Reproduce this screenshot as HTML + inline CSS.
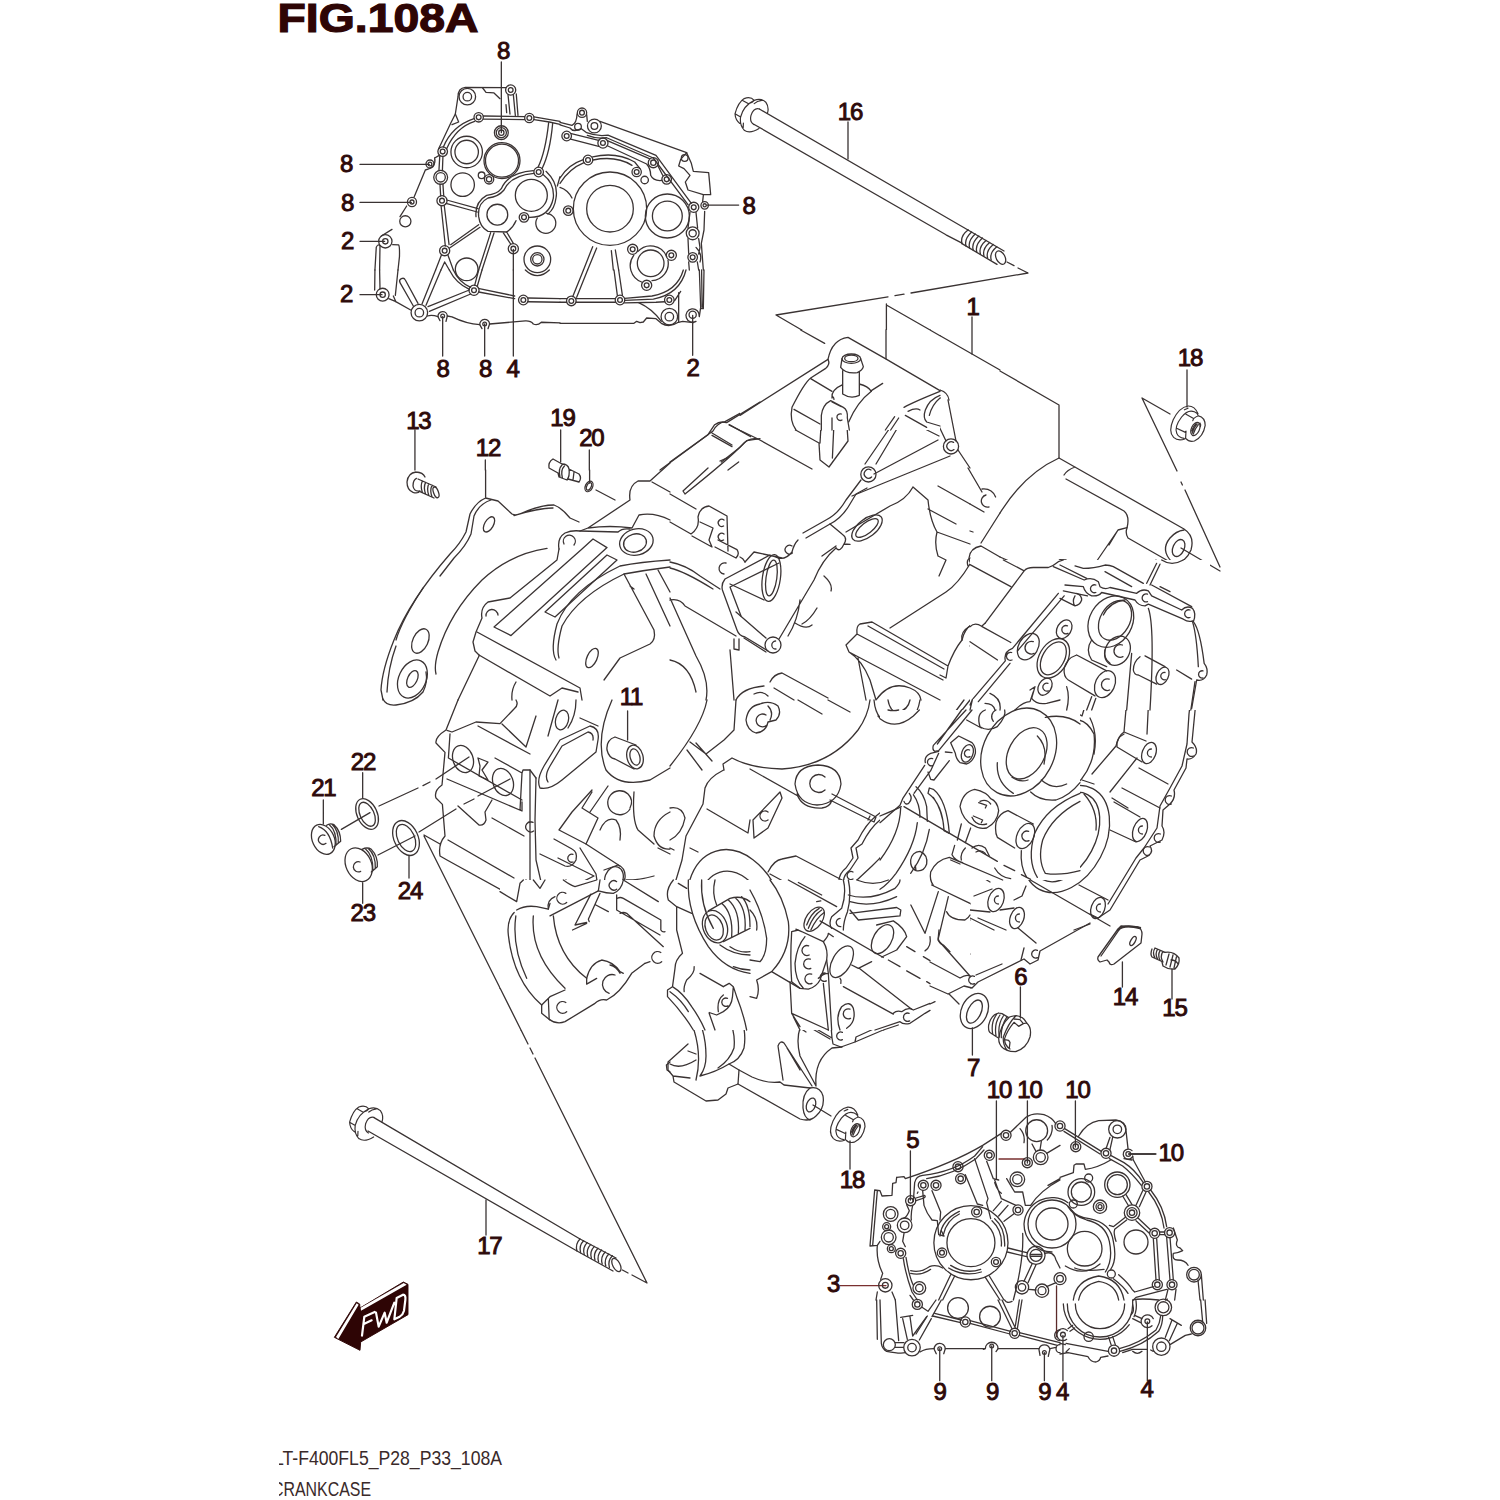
<!DOCTYPE html>
<html><head><meta charset="utf-8"><title>FIG.108A CRANKCASE</title>
<style>
html,body{margin:0;padding:0;background:#fff;}
body{width:1500px;height:1500px;overflow:hidden;font-family:"Liberation Sans",sans-serif;}
svg{display:block;}
svg text{font-family:"Liberation Sans",sans-serif;}
.l{fill:none;stroke:#3a3333;stroke-linecap:round;stroke-linejoin:round;}
.w{fill:#fff;stroke:#3a3333;stroke-linecap:round;stroke-linejoin:round;}
.n{font-weight:normal;font-size:24px;fill:#2e0a0a;stroke:#2e0a0a;stroke-width:0.95px;text-anchor:middle;letter-spacing:-1.2px;}
</style></head><body>
<svg width="1500" height="1500" viewBox="0 0 1500 1500">
<rect width="1500" height="1500" fill="#fff"/>
<defs>
<clipPath id="cutAll" clipPathUnits="userSpaceOnUse"><path clip-rule="evenodd" d="M0 0H1500V1500H0ZM970 560H1210V710H970ZM500 880H970V1030H500ZM740 330H940V430H740ZM880 710H970V880H880ZM970 710H1080V880H970Z"/></clipPath>
</defs>
<g transform="translate(725,85) scale(0.04)" class="l" stroke-width="30">
<path d="M730 385Q640 280 480 340Q330 430 250 720Q260 880 370 960M730 385Q460 520 390 800Q360 1000 480 1130M440 385L590 470M250 720L390 800M590 470Q700 430 730 385M730 385Q900 320 1020 430Q1110 560 1060 710M480 1130Q620 1230 850 1090M730 465Q800 400 920 385M460 950L455 1060M860 600Q720 560 650 760Q610 920 720 990"/>
</g>
<g transform="translate(1160,395) scale(0.04)" class="l" stroke-width="30">
<path d="M700 275Q480 310 330 620Q200 920 340 1060Q450 1160 620 1100M700 275Q870 270 950 470M860 420Q700 350 540 550Q350 800 420 960Q460 1060 600 1085M650 480L840 590M415 830L650 940M840 590L820 640M650 900L640 1080M960 520Q1130 560 1130 760Q1080 1050 860 1150Q720 1180 650 1090M960 520Q900 540 840 590M860 420Q940 450 960 520M610 370L700 330"/>
<ellipse cx="885" cy="850" rx="100" ry="175" transform="rotate(25 885 850)"/>
<path d="M800 960Q850 800 930 720M830 980Q880 830 960 740M790 900Q830 780 900 710M1000 700Q1030 740 1010 790"/>
</g>

<g transform="translate(360,70) scale(0.133333)" class="l" stroke-width="9.7">
<!-- tile A1: 360,70 .. 560,270 -->
<path d="M1060 -60V470M0 708H520M0 993H385M0 1285H185M1150 1345V1500"/>
<circle cx="1060" cy="470" r="52"/><circle cx="1060" cy="470" r="38"/><circle cx="1060" cy="470" r="20"/>
<path d="M1095 132L790 130Q735 135 735 200L715 330L680 400L590 590"/>
<circle cx="805" cy="200" r="62"/><circle cx="805" cy="200" r="32"/>
<circle cx="1130" cy="150" r="38"/><circle cx="1130" cy="150" r="18"/>
<path d="M920 135L945 168L1005 172L1050 215M1110 185L1125 330M1150 185L1165 340M1172 180L1185 340M1095 260L1100 320"/>
<circle cx="890" cy="355" r="35"/><circle cx="890" cy="355" r="18"/>
<circle cx="1270" cy="360" r="35"/><circle cx="1270" cy="360" r="18"/>
<path d="M925 345L1235 350M925 368L1235 372M1305 352L1500 385M1305 372L1420 390L1500 408"/>
<path d="M855 365Q690 420 625 578M860 385Q720 430 650 590"/>
<path d="M715 330L740 390L690 410"/>
<circle cx="620" cy="612" r="36"/><circle cx="620" cy="612" r="18"/>
<path d="M595 640L560 660M490 750L405 955M560 660Q575 730 490 750M350 1020L300 1100M240 1195L160 1245"/>
<circle cx="525" cy="705" r="30"/><circle cx="525" cy="705" r="14"/>
<circle cx="605" cy="805" r="52"/><circle cx="605" cy="805" r="35"/>
<path d="M598 648L592 755M622 648L618 755M600 858L605 945M622 858L628 945"/>
<circle cx="800" cy="615" r="118"/><circle cx="800" cy="615" r="88"/>
<circle cx="1065" cy="680" r="135"/><circle cx="1065" cy="680" r="124"/>
<circle cx="770" cy="860" r="88"/>
<circle cx="912" cy="790" r="25"/><circle cx="968" cy="820" r="35"/><circle cx="968" cy="820" r="20"/>
<circle cx="615" cy="980" r="38"/><circle cx="615" cy="980" r="18"/>
<circle cx="390" cy="990" r="34"/><circle cx="390" cy="990" r="15"/>
<circle cx="1340" cy="765" r="36"/><circle cx="1340" cy="765" r="18"/>
<path d="M1415 395Q1390 620 1335 730M1445 400Q1425 620 1365 740"/>
<circle cx="1285" cy="940" r="120"/>
<path d="M1305 775Q1130 790 1080 900Q1040 950 960 960Q880 1000 890 1100Q900 1180 960 1210L1100 1215Q1150 1180 1170 1130M1265 1105Q1420 1110 1450 960Q1460 850 1375 785"/>
<path d="M1300 755Q1110 770 1060 890Q1030 930 950 940Q860 990 870 1100M1395 760Q1490 850 1470 960Q1460 1040 1410 1080"/>
<circle cx="1030" cy="1085" r="78"/>
<circle cx="1230" cy="1105" r="36"/><circle cx="1230" cy="1105" r="18"/>
<path d="M1330 1110A75 75 0 1 0 1400 1075"/>
<circle cx="340" cy="1135" r="42"/>
<circle cx="190" cy="1285" r="50"/><circle cx="190" cy="1285" r="20"/>
<path d="M112 1500L122 1330Q135 1300 150 1320L147 1500M245 1310L290 1312Q298 1320 296 1400L285 1500"/>
<path d="M650 975L885 1040M645 1000L880 1065M608 1018L640 1320M632 1018L668 1310M680 1310L890 1160M672 1335L900 1180"/>
<circle cx="635" cy="1355" r="38"/><circle cx="635" cy="1355" r="18"/>
<path d="M980 1220L890 1500M1005 1222L915 1500M1075 1222L1130 1305M1100 1215L1150 1300M610 1390L567 1500M660 1390L700 1500M635 1440L607 1500M635 1440L670 1500"/>
<circle cx="1150" cy="1340" r="38"/><circle cx="1150" cy="1340" r="18"/>
<circle cx="1330" cy="1420" r="100"/><circle cx="1330" cy="1420" r="50"/><circle cx="1330" cy="1420" r="35"/>
<circle cx="800" cy="1495" r="85"/>
<path d="M1500 800L1480 870"/>
</g>

<g transform="translate(560,70) scale(0.133333)" class="l" stroke-width="9.7">
<!-- tile A2: 560,70 .. 760,270 -->
<circle cx="165" cy="320" r="35"/><circle cx="165" cy="320" r="18"/>
<circle cx="258" cy="420" r="52"/><circle cx="258" cy="420" r="25"/>
<circle cx="135" cy="425" r="25"/>
<circle cx="50" cy="495" r="36"/><circle cx="50" cy="495" r="18"/>
<circle cx="322" cy="548" r="38"/><circle cx="322" cy="548" r="18"/>
<circle cx="210" cy="675" r="36"/><circle cx="210" cy="675" r="18"/>
<circle cx="700" cy="695" r="38"/><circle cx="700" cy="695" r="20"/>
<circle cx="575" cy="765" r="35"/><circle cx="575" cy="765" r="18"/>
<circle cx="635" cy="825" r="28"/>
<circle cx="800" cy="820" r="36"/><circle cx="800" cy="820" r="18"/>
<circle cx="375" cy="1040" r="275"/><circle cx="375" cy="1040" r="175"/>
<circle cx="805" cy="1095" r="165"/><circle cx="805" cy="1095" r="112"/>
<circle cx="62" cy="1055" r="36"/><circle cx="62" cy="1055" r="18"/>
<circle cx="1003" cy="1030" r="38"/><circle cx="1003" cy="1030" r="18"/>
<circle cx="1085" cy="1015" r="28"/><circle cx="1085" cy="1015" r="12"/>
<circle cx="995" cy="1225" r="48"/><circle cx="995" cy="1225" r="27"/>
<circle cx="995" cy="1405" r="36"/><circle cx="995" cy="1405" r="18"/>
<circle cx="545" cy="1345" r="38"/><circle cx="545" cy="1345" r="18"/>
<circle cx="835" cy="1390" r="38"/><circle cx="835" cy="1390" r="18"/>
<path d="M0 392L90 415Q125 400 128 330M200 335L205 385M300 385L950 620"/>
<path d="M0 412L75 435Q100 470 160 440L200 470Q280 500 360 488L720 640L985 1000M205 490Q280 520 350 508L700 660L960 1010"/>
<path d="M85 478L290 528M80 518L290 572M355 530L670 665M355 568L650 705Q680 740 680 790Q700 835 765 828M735 720L770 790"/>
<path d="M0 810Q60 710 175 672M0 850Q70 740 180 695M245 652Q420 610 560 690L600 740M248 675Q420 640 540 715"/>
<path d="M950 620L905 670L890 720L930 740L975 790L940 840L960 900L1075 935L1130 935L1115 770L1000 760L985 700Z"/>
<circle cx="935" cy="660" r="25"/>
<path d="M1075 940L1070 985M1085 1060L1080 1200L1060 1300L1075 1500M1100 1013H1340"/>
<path d="M975 1068L960 1185M1020 1068L1032 1185M960 1265L965 1375M1040 1265L1050 1330L1040 1380M965 1440L970 1500M1030 1440L1040 1500M1020 1330Q1070 1380 1050 1440"/>
<path d="M245 1325L176 1500M275 1335L207 1500M385 1355L400 1500M415 1350L440 1500"/>
<circle cx="680" cy="1450" r="100"/><path d="M583 1362A130 130 0 0 1 800 1400M810 1428A130 130 0 0 1 690 1580M612 1590A130 130 0 0 1 553 1390"/>
<path d="M0 880Q60 900 90 960"/>
</g>

<g transform="translate(360,270) scale(0.133333)" class="l" stroke-width="9.7">
<!-- tile A3: 360,270 .. 560,470 -->
<path d="M620 350V645M935 405V645M1150 0V645M412 1200V1500M940 1425V1500M0 185H165"/>
<circle cx="170" cy="185" r="48"/><circle cx="170" cy="185" r="20"/>
<circle cx="445" cy="320" r="62"/><circle cx="445" cy="320" r="32"/>
<circle cx="855" cy="152" r="38"/><circle cx="855" cy="152" r="18"/>
<circle cx="1225" cy="225" r="36"/><circle cx="1225" cy="225" r="18"/>
<circle cx="620" cy="345" r="14"/><path d="M585 350A35 35 0 0 1 655 345L645 385M585 350L600 380"/>
<circle cx="935" cy="405" r="14"/><path d="M898 410A36 36 0 0 1 972 405L960 440M898 410L915 440"/>
<path d="M112 0L110 150M147 0L150 140M285 0L265 190M215 215L265 235L380 300M250 195L270 240"/>
<path d="M400 270L300 95A22 22 0 0 1 340 75L435 250"/>
<path d="M465 255L567 0M495 265L607 0M510 275L820 150M520 310L830 180"/>
<path d="M895 140L1160 195M890 165L1160 215M1260 210L1500 215M1260 238L1500 242"/>
<path d="M700 0Q740 90 830 130M670 0Q720 100 820 145M880 120L915 0M860 115L890 0"/>
<path d="M505 345Q540 335 585 350M655 345L690 352Q800 405 898 410M972 405L1240 382Q1280 380 1300 405Q1330 420 1360 392L1500 396"/>
<path d="M1240 0Q1330 85 1420 0"/>
</g>

<g transform="translate(560,270) scale(0.133333)" class="l" stroke-width="9.7">
<!-- tile A4: 560,270 .. 760,470 -->
<path d="M995 340V640M220 1350V1500M5 1200V1440"/>
<circle cx="85" cy="232" r="36"/><circle cx="85" cy="232" r="18"/>
<circle cx="450" cy="225" r="36"/><circle cx="450" cy="225" r="18"/>
<circle cx="820" cy="225" r="36"/><circle cx="820" cy="225" r="18"/>
<circle cx="650" cy="115" r="38"/><circle cx="650" cy="115" r="18"/>
<circle cx="820" cy="350" r="62"/><circle cx="820" cy="350" r="32"/>
<circle cx="995" cy="335" r="27"/><path d="M1020 385A50 50 0 1 1 1045 345"/>
<path d="M0 215H50M120 215H415M0 242H50M120 242H415M485 228L700 218Q900 180 945 0M485 247L720 242L785 238M485 213L690 195Q880 160 925 0"/>
<path d="M95 200L176 0M125 205L207 0M405 0L430 190M440 0L468 190"/>
<path d="M590 245Q690 290 760 385"/>
<path d="M0 400H555L575 385L600 395L625 390L650 360L720 365L760 400Q820 435 880 395L920 385L1000 395"/>
<path d="M890 170V390M905 160L860 230M1045 0L1055 280L1045 350M1080 0L1075 290L1055 290M1062 0L1066 280"/>
<!-- main body upper-left corner -->
<path d="M750 1500L1110 1235L1160 1160Q1200 1130 1250 1145L1500 990M1140 1240L1290 1325M1270 1160L1430 1250M1210 1440L1350 1330L1400 1280L1500 1265M1260 1500L1340 1440"/>
</g>

<g clip-path="url(#cutAll)">
<g transform="translate(730,70) scale(0.2)" class="l" stroke-width="6.5">
<!-- tile B1: 730,70 .. 1030,370  (5x) -->
<path d="M590 260V445M1210 1235V1420"/>
<!-- bolt 16 -->
<path d="M147 195L1190 800M119 271L1080 824L1160 866"/>
<path d="M1190 800L1370 905M1160 868L1335 972"/>
<ellipse cx="1353" cy="938" rx="22" ry="36" transform="rotate(-28 1353 938)"/>
<path d="M1190 800Q1150 830 1160 868M1208 810Q1170 845 1180 880M1226 820Q1188 855 1198 890M1244 830Q1206 865 1216 900M1262 840Q1224 875 1234 910M1280 852Q1242 885 1252 920M1298 862Q1260 895 1270 930M1316 872Q1278 905 1288 940M1334 884Q1296 915 1306 950"/>
<!-- zigzag -->
<path d="M1385 960L1420 978M1440 990L1490 1015L905 1115M870 1121L825 1128M790 1134L230 1225L470 1365"/>
<path d="M782 1170V1445M782 1175L1350 1500"/>
<!-- body top -->
<path d="M400 1500L490 1440L520 1380Q560 1335 605 1348L720 1410L780 1445L880 1500M560 1500L565 1452Q590 1420 640 1425Q668 1445 660 1500"/>
<ellipse cx="615" cy="1448" rx="35" ry="14"/>
</g>
</g>

<g transform="translate(370,400) scale(0.2)" class="l" stroke-width="6.5">
<!-- tile C1: 370,400 .. 670,700 (5x) -->
<path d="M578 350V485M1098 350V415M1130 450L1225 500"/>
<!-- screw 13 -->
<path d="M230 360Q190 365 185 410Q185 450 215 462M230 360Q265 362 275 385M215 462Q240 470 250 455M232 392Q215 400 215 430Q220 460 250 455M240 395L330 435M250 458L320 490M262 405Q250 430 262 462M278 412Q266 437 278 470M294 419Q282 444 294 477M310 426Q298 451 310 484"/>
<ellipse cx="330" cy="462" rx="12" ry="28" transform="rotate(-20 330 462)"/>
<!-- fitting 19 -->
<path d="M915 295Q890 310 895 340L940 365M915 295L960 320M940 365L945 385L985 400M960 320Q990 320 995 345M985 400Q1000 380 995 345M995 345L1045 370Q1060 390 1045 410L990 395M960 325Q940 345 950 385M972 330Q952 350 962 390M1020 360L1015 400"/>
<ellipse cx="1095" cy="432" rx="18" ry="28" transform="rotate(25 1095 432)"/><ellipse cx="1095" cy="432" rx="11" ry="20" transform="rotate(25 1095 432)"/>
<!-- plate 12 -->
<path d="M578 490Q530 510 500 570L480 660Q450 720 400 770Q200 1000 120 1200Q60 1350 55 1450L65 1500"/>
<path d="M605 500Q545 520 520 580L505 670Q480 730 420 790L350 880M265 940Q160 1100 130 1200M130 1230Q90 1340 85 1460"/>
<path d="M578 490L640 505L710 570Q730 580 760 565Q850 525 920 525Q960 540 1000 590L1045 610M720 578Q840 540 915 540"/>
<ellipse cx="595" cy="622" rx="22" ry="42" transform="rotate(30 595 622)"/>
<path d="M885 742Q700 770 560 900Q400 1060 340 1260Q320 1330 330 1370"/>
<ellipse cx="252" cy="1205" rx="38" ry="65" transform="rotate(25 252 1205)"/>
<ellipse cx="212" cy="1395" rx="68" ry="100" transform="rotate(25 212 1395)"/><ellipse cx="212" cy="1395" rx="24" ry="45" transform="rotate(25 212 1395)"/>
<!-- crankcase upper-left flange -->
<path d="M945 745Q935 690 975 665Q1010 650 1050 655L1090 640L1300 500Q1290 430 1340 405L1400 405L1500 315M1410 410L1500 460M1090 640Q1200 625 1310 640L1345 575Q1420 560 1500 600"/>
<path d="M970 720A30 30 0 1 1 1020 725"/>
<path d="M945 745L935 800L700 990L590 1010Q550 1040 560 1090L530 1160L515 1210L525 1255L545 1275"/>
<path d="M580 1080A30 30 0 1 1 640 1075"/>
<path d="M1050 655L1240 660Q1260 640 1300 645"/>
<ellipse cx="1332" cy="710" rx="85" ry="65" transform="rotate(-15 1332 710)"/><ellipse cx="1325" cy="715" rx="58" ry="45" transform="rotate(-15 1325 715)"/>
<path d="M1060 745L1115 695L1185 738L705 1178L620 1135ZM1185 775L1235 800L925 1085L875 1060Z"/>
<path d="M1500 800Q1350 810 1250 830Q1000 950 935 1120Q900 1250 930 1300M1500 835Q1380 850 1270 870Q1040 980 960 1130Q930 1240 945 1290"/>
<path d="M1270 870L1420 1150Q1430 1200 1400 1220L1250 1290L1170 1400M1380 870L1500 1130M1440 850L1500 960M1300 930L1320 945"/>
<ellipse cx="1110" cy="1290" rx="25" ry="52" transform="rotate(25 1110 1290)"/>
<path d="M535 1160L1050 1440L1060 1500M545 1275L900 1480L960 1440L1040 1460M545 1280L440 1500M730 1410Q705 1450 710 1500"/>
</g>

<g clip-path="url(#cutAll)">
<g transform="translate(670,400) scale(0.2)" class="l" stroke-width="6.5">
<!-- tile C2: 670,400 .. 970,700 (5x) -->
<path d="M0 310L215 155Q235 115 275 108L470 0M295 125L440 195L710 345M440 195Q395 185 360 225Q300 290 75 470L65 455L190 340M210 165L310 225M250 305L295 285"/>
<path d="M0 470L130 545M0 610L105 670Q150 640 140 585Q150 535 195 530L285 580L290 755M110 680L210 735L195 700L215 640L150 610M225 735L330 790Q350 770 335 748L240 700"/>
<path d="M0 810Q80 825 150 880L250 945M0 840Q70 855 215 945M270 600A18 18 0 1 0 268 630M270 670A18 18 0 1 0 268 700M280 815A28 28 0 1 0 270 870M375 810Q365 790 350 785"/>
<path d="M650 0Q612 15 610 55L610 140L745 215L750 300L795 335L890 205L880 60Q860 15 815 8Q770 10 762 50L755 130L750 215M625 55L760 118M820 110L812 290M865 65A15 15 0 1 0 862 95"/>
<!-- tubes / gasket -->
<path d="M1340 200L1020 370M1400 280L910 480M975 320L1130 95L1210 35M1030 320L1170 85L1250 30"/>
<circle cx="992" cy="372" r="38"/><path d="M1005 350A22 22 0 1 0 1008 385"/>
<circle cx="1405" cy="232" r="38"/><path d="M1418 212A22 22 0 1 0 1420 248"/>
<path d="M1380 205L1330 100Q1300 110 1280 80Q1260 40 1300 10M1430 205L1390 0M1440 250L1500 340M1330 130L1170 60M1345 180L1275 145"/>
<path d="M955 400L880 500Q840 570 780 600L665 665M985 440L930 470L900 520Q860 590 800 620L680 690"/>
<path d="M640 700Q620 720 610 760Q580 800 540 790L500 775L275 895Q255 920 262 950L335 1150Q345 1180 375 1185L490 1255M545 815L300 935L355 1080M610 730A22 22 0 1 0 612 765M560 790L420 760L375 810"/>
<ellipse cx="507" cy="890" rx="45" ry="118" transform="rotate(8 507 890)"/><ellipse cx="507" cy="890" rx="27" ry="90" transform="rotate(8 507 890)"/>
<ellipse cx="985" cy="640" rx="90" ry="45" transform="rotate(-38 985 640)"/><ellipse cx="985" cy="640" rx="68" ry="27" transform="rotate(-38 985 640)"/>
<circle cx="515" cy="1225" r="40"/><path d="M528 1205A20 20 0 1 0 530 1245"/>
<path d="M545 1195L720 900Q760 800 830 740M480 1260L370 1190M330 1060L480 1190M650 1000Q640 1100 590 1180M770 880Q815 920 805 955M625 1115Q680 1150 710 1125M735 1040Q700 1100 660 1120"/>
<path d="M830 740Q850 765 870 720Q890 690 860 670L800 620M760 780L830 730M870 720L900 722M300 920L470 1000"/>
<path d="M1215 435L1290 500Q1300 600 1335 660Q1320 720 1340 780L1380 800L1345 880M1340 430L1500 520M1290 545L1430 620M1335 660L1500 720M1500 790Q1480 800 1490 830M1500 820Q1440 920 1380 960L1100 1140M1215 435Q1180 500 1100 530L880 660"/>
<!-- lower right flange -->
<path d="M950 1120Q930 1130 935 1170L880 1225L895 1260L1350 1500M950 1120L1010 1110L1390 1330L1380 1390L1350 1375M935 1170L1365 1400M990 1130L1370 1345M1390 1330Q1420 1250 1460 1200Q1450 1160 1500 1130M895 1260Q960 1300 1000 1400L1030 1500M940 1290L980 1500M1030 1500Q1100 1400 1200 1440Q1250 1460 1255 1500"/>
<!-- lower left -->
<path d="M0 1000Q50 990 75 1030L330 1180M0 990L130 1280Q200 1400 180 1500M0 1300Q100 1320 130 1460M300 1250L320 1500M320 1195L320 1245L345 1250L345 1195M330 1500Q360 1440 470 1430M500 1410Q520 1370 560 1365L790 1490M520 1440L620 1500M420 1470Q460 1450 490 1480"/>
</g>
</g>

<g clip-path="url(#cutAll)">
<g transform="translate(1000,330) scale(0.2)" class="l" stroke-width="6.5">
<!-- tile C3: 1000,330 .. 1300,630 (5x) -->
<path d="M935 200V385M0 205L295 375V640"/>
<path d="M710 340L850 420M710 340L885 705M905 760L912 775M925 800L1100 1185M1100 1205L905 1090"/>
<path d="M295 640Q120 720 0 915M295 640L920 995M375 685Q335 700 320 725M330 745L620 905Q650 930 635 990Q625 1015 640 1040L850 1160M920 995Q975 1030 955 1100Q920 1180 850 1160"/>
<ellipse cx="893" cy="1090" rx="28" ry="45" transform="rotate(25 893 1090)"/>
<path d="M860 1160Q800 1100 850 1040Q880 1005 920 1000"/>
<path d="M635 988L590 1000L460 1190M590 1000L545 1075"/>
<path d="M0 1135L125 1190L270 1172L300 1148L330 1150L450 1245M130 1190L60 1290L0 1250"/>
<path d="M400 1185L510 1210L545 1180L720 1280L780 1290L960 1390L965 1440L1010 1500"/>
<path d="M330 1270L420 1280L440 1310L500 1290L690 1335L700 1380L760 1370L920 1440L915 1480L950 1500"/>
<path d="M810 1160L730 1280M780 1150L715 1260M520 1215L660 1290M305 1185L420 1250M790 1260L930 1380"/>
<path d="M450 1245Q500 1260 490 1300M460 1270Q440 1290 460 1310M715 1300Q760 1310 750 1360M720 1320Q700 1340 720 1360M940 1385Q980 1400 965 1440M940 1400Q920 1420 935 1445"/>
<path d="M320 1275L140 1500M295 1330L370 1385Q405 1345 385 1310M300 1300L385 1310"/>
<path d="M455 1500Q460 1380 570 1340Q680 1330 740 1400L800 1500M500 1500Q520 1420 580 1390Q650 1380 665 1500"/>
<path d="M290 1500A32 32 0 0 1 350 1500"/>
</g>
</g>

<g clip-path="url(#cutAll)">
<g transform="translate(370,700) scale(0.2)" class="l" stroke-width="6.5">
<!-- tile D1: 370,700 .. 670,1000 (5x) -->
<path d="M195 780V890M1288 55V200"/>
<ellipse cx="180" cy="690" rx="60" ry="92" transform="rotate(-25 180 690)"/><ellipse cx="180" cy="690" rx="42" ry="72" transform="rotate(-25 180 690)"/>
<path d="M45 530L240 440M265 428L300 410M330 395L495 285M40 775L225 680M245 660L430 545M470 520L520 495M540 480L700 395M270 675L350 720M270 680L680 1500"/>
<path d="M440 0L380 150Q325 185 330 215L375 262L360 425Q318 455 330 490L362 522L375 680Q340 720 350 780L385 800L720 985"/>
<path d="M385 152L410 160L530 110L650 118L720 45Q745 25 730 0M400 170L392 290L760 500M540 130L800 270M660 120L780 235L830 80"/>
<ellipse cx="465" cy="295" rx="50" ry="70" transform="rotate(-20 465 295)"/><ellipse cx="665" cy="410" rx="50" ry="70" transform="rotate(-20 665 410)"/>
<path d="M540 290L590 310L560 350L590 400L545 380L550 330ZM625 290L760 365L765 350L800 350L830 390M385 395L760 555L760 510M760 365L750 550"/>
<path d="M800 350L800 900M830 390L825 600L830 800L860 930M800 900L850 940M390 700L720 890M440 530L545 625Q570 630 580 600L575 560L610 500M610 590L770 680M815 612A25 25 0 1 0 818 655"/>
<path d="M850 440Q830 400 870 330L950 200L1100 130Q1150 140 1140 200L1130 260L960 400Q900 450 850 440M890 410Q870 380 900 330L960 230L1090 160Q1120 165 1115 200"/>
<path d="M940 0L890 180M1030 0Q1030 80 990 140M1050 90L1140 130"/>
<ellipse cx="960" cy="100" rx="32" ry="50" transform="rotate(15 960 100)"/>
<!-- dowel 11 -->
<path d="M1225 185Q1180 200 1185 250Q1195 290 1225 295L1320 345M1225 185L1330 225"/>
<ellipse cx="1325" cy="285" rx="40" ry="60" transform="rotate(-15 1325 285)"/><ellipse cx="1325" cy="285" rx="24" ry="42" transform="rotate(-15 1325 285)"/>
<path d="M1210 0Q1120 200 1180 350Q1250 440 1400 400L1500 340M1190 430L1100 560M1110 450L1010 560L945 650L1080 720L1140 590L1060 540L1110 460"/>
<path d="M1290 470A60 60 0 1 0 1300 545M1290 470Q1320 500 1300 540M1150 650Q1180 580 1230 600Q1260 640 1250 700M1320 460Q1310 600 1340 650L1420 720M1500 770L1440 740M1500 560Q1420 600 1420 680Q1440 750 1500 745"/>
<path d="M920 695L1010 745Q1040 760 1030 800Q1010 840 975 830L850 770M1015 772A20 20 0 1 0 1015 810"/>
<path d="M1080 720L1250 830M1050 740L1130 870L1140 940M940 790L1120 880L1040 920L1010 930L980 900L940 920"/>
<ellipse cx="1220" cy="890" rx="45" ry="58" transform="rotate(20 1220 890)"/>
<path d="M1170 850L1240 825Q1280 840 1275 890Q1260 950 1200 965L1150 940"/>
<path d="M750 920L780 900L850 940M750 920L745 1030L700 1090Q690 1200 740 1330M745 1030L880 1040L890 990L960 950M880 1040L905 1085L1140 950M962 970A22 22 0 1 0 965 1010"/>
<path d="M720 1090Q760 1060 850 1065M730 1300Q720 1150 790 1080M810 1080Q790 1250 900 1380M910 1085Q930 1250 1080 1380M760 1330Q800 1400 850 1440"/>
<path d="M1140 950L1075 1080L1015 1155L1090 1110L1130 990M1150 960L1280 1040M1230 985L1240 1060L1460 1150M1250 1070L1290 1060L1500 1160M1280 900Q1350 900 1420 880M1500 940Q1480 970 1500 1000M1240 1060Q1300 1100 1450 1250"/>
<path d="M1080 1380Q1090 1330 1140 1320Q1200 1300 1250 1340Q1280 1360 1265 1400M1445 1268A25 25 0 1 0 1448 1312M1400 1300L1340 1320M1080 1380L900 1490M1090 1420L1080 1380M1150 1440Q1170 1380 1230 1380M970 1445L975 1500M1240 1345A22 22 0 1 0 1245 1390"/>
</g>
</g>

<g clip-path="url(#cutAll)">
<g transform="translate(670,700) scale(0.2)" class="l" stroke-width="6.5">
<!-- tile D2: 670,700 .. 970,1000 (5x) -->
<path d="M185 0Q160 130 0 330M330 0L320 150L270 200L180 270L100 210M85 250L160 350M130 215L210 305"/>
<path d="M380 100Q390 30 450 20Q500 0 540 30Q560 70 530 100L490 110Q480 160 430 165Q385 150 380 100M480 75A32 32 0 1 0 485 125M490 30Q520 60 500 100"/>
<path d="M640 0L760 70M790 0L900 60M1000 0Q990 80 940 150Q800 330 560 345Q400 340 310 290L265 320L270 350"/>
<path d="M1020 0Q1030 120 1130 125Q1230 120 1250 0M1090 0Q1100 60 1140 60Q1190 50 1200 0M1040 80Q1080 130 1150 135"/>
<path d="M268 350Q190 390 175 440L165 520L80 680L60 800L30 900L0 940M400 345L640 480M185 545L390 665L400 600M420 690L415 600L550 460L560 490L490 640L420 690M490 560A25 25 0 1 0 490 600"/>
<path d="M625 420Q630 330 740 325Q850 330 855 420Q840 520 735 525Q640 520 625 420M635 470Q660 545 760 540Q800 535 810 500M775 385A45 45 0 1 0 775 450"/>
<path d="M810 470L1030 585L1020 610L800 500M1000 580L990 600"/>
<path d="M1500 0L1330 215L1320 245L1335 265L1285 300Q1270 330 1295 350L1215 445L1140 540L1050 600Q1000 640 960 720L930 740L940 790L900 850Q860 880 870 920L850 1040L800 1090"/>
<path d="M1470 0L1310 215M1360 230L1500 60M1260 300L1190 400L1120 510L1030 580Q980 620 940 700L905 740L915 790L880 840Q840 870 845 920L830 1030L790 1070M1215 445Q1240 470 1225 495M915 860A20 20 0 1 0 915 895M1310 290A20 20 0 1 0 1310 325"/>
<path d="M1380 260L1500 200M1400 300L1440 290Q1460 320 1500 310M1290 380L1310 400"/>
<path d="M1170 545L1500 720M1165 545Q1150 700 1010 830L935 900M1240 590Q1230 750 1090 880Q1000 960 905 985M1290 620Q1290 800 1130 930Q1020 1010 910 1010M900 1050L935 1085L1140 1040L1145 1070L960 1110L900 1070"/>
<path d="M1250 470Q1330 560 1300 640M1300 440Q1400 520 1390 640M1290 450L1310 440L1350 480M1340 470Q1400 560 1380 650"/>
<circle cx="1245" cy="810" r="40"/>
<path d="M1300 870Q1290 820 1340 800L1500 870M1300 870Q1290 920 1330 940L1500 1020M1330 940L1280 1170L1210 1030M1500 700L1440 690M1420 750L1400 1000M1350 1000L1340 1180L1500 1270M1390 1060Q1400 1100 1500 1100M1470 480Q1450 540 1500 580M1470 620L1440 690"/>
<ellipse cx="1040" cy="1210" rx="35" ry="70" transform="rotate(20 1040 1210)"/>
<path d="M1020 1150L1110 1110Q1160 1120 1160 1180L1090 1260L1050 1280"/>
<!-- oil filter mount -->
<ellipse cx="330" cy="1075" rx="235" ry="335" transform="rotate(-18 330 1075)"/>
<ellipse cx="320" cy="1085" rx="165" ry="235" transform="rotate(-18 320 1085)"/>
<path d="M200 920Q170 1000 190 1060M260 960Q330 940 380 1020Q400 1080 390 1130M300 1210Q380 1290 460 1230M330 1330Q420 1340 470 1270"/>
<ellipse cx="228" cy="1140" rx="58" ry="75" transform="rotate(-18 228 1140)"/><ellipse cx="222" cy="1145" rx="40" ry="55" transform="rotate(-18 222 1145)"/>
<path d="M205 1070L300 1020Q370 1030 385 1100Q385 1150 350 1165L255 1212M240 1050Q300 1080 290 1195M265 1038Q325 1068 315 1183M292 1026Q352 1056 340 1170M320 1020Q375 1060 362 1160"/>
<path d="M490 860Q520 800 560 795L630 780L860 900M500 870L830 1050M640 910L800 990"/>
<ellipse cx="712" cy="1082" rx="38" ry="62" transform="rotate(30 712 1082)"/>
<path d="M690 1120Q720 1060 750 1040M700 1135Q735 1075 765 1055M680 1100Q705 1050 735 1030"/>
<path d="M760 1115L1430 1460M700 1160L850 1240M950 1340L1300 1500M1180 1250L1290 1310M1330 1330L1500 1420M1430 1460L1500 1440M1400 1500L1440 1470"/>
<path d="M620 1160Q600 1250 620 1380L680 1450Q740 1440 740 1380Q760 1260 720 1200L660 1170ZM700 1215A25 25 0 1 0 700 1260M710 1280A25 25 0 1 0 710 1325M705 1375A25 25 0 1 0 700 1420M640 1150L720 1190"/>
<path d="M790 1230Q800 1330 780 1420L800 1500M770 1345A20 20 0 1 0 770 1385M740 1440L790 1420"/>
<ellipse cx="855" cy="1300" rx="45" ry="90" transform="rotate(15 855 1300)"/>
<path d="M800 1095Q830 1060 860 1100Q870 1140 830 1150M790 1170Q810 1190 830 1180"/>
<path d="M0 1010Q40 1030 30 1100L50 1290L0 1400M80 1400Q100 1350 140 1330M150 1380L250 1440M300 1420L270 1500M440 1400L430 1500M520 1370L660 1450M0 1450Q40 1460 60 1500M0 540Q60 530 75 590Q60 670 0 700M0 740L20 750M100 740L140 760M20 930L90 965"/>
</g>
</g>

<g clip-path="url(#cutAll)">
<g transform="translate(970,630) scale(0.2)" class="l" stroke-width="6.5">
<!-- tile D3: 970,630 .. 1270,930 (5x) -->
<path d="M1100 0Q1150 40 1160 100L1165 170Q1200 190 1190 225Q1170 260 1140 250L1110 560Q1140 590 1130 620Q1110 650 1085 645L1080 690L1020 800Q1030 840 1000 870L965 900L960 980Q980 1010 960 1050L900 1080Q920 1110 890 1130L850 1150L700 1400L640 1440"/>
<path d="M1080 0Q1120 40 1130 100L1125 180L1115 250L1095 420L1085 570L1060 680L1000 790L950 880L935 990L870 1090L830 1140L690 1370"/>
<path d="M1172 205A22 22 0 1 0 1172 245M1117 590A22 22 0 1 0 1117 630M1007 830A22 22 0 1 0 1007 870M952 1020A22 22 0 1 0 952 1060M897 1085A22 22 0 1 0 897 1125M1030 200L1110 245"/>
<path d="M910 0L885 520M805 110L770 510Q740 530 730 580L610 720M770 510L880 555M835 640L700 810"/>
<path d="M850 130Q810 150 815 190Q820 220 845 225L940 275M850 130L960 180"/><ellipse cx="960" cy="230" rx="34" ry="50" transform="rotate(20 960 230)"/><path d="M972 212A20 20 0 1 0 972 248"/>
<path d="M770 520Q730 540 735 585L860 660"/><ellipse cx="895" cy="615" rx="34" ry="55" transform="rotate(20 895 615)"/><path d="M907 595A20 20 0 1 0 907 635"/>
<path d="M720 860L850 935M700 1000L830 1060M845 690L990 770M760 790L950 890M710 840L790 890"/><ellipse cx="850" cy="1000" rx="34" ry="60" transform="rotate(20 850 1000)"/><path d="M862 980A20 20 0 1 0 862 1020"/>
<path d="M545 1275L690 1350M600 1420L640 1440"/><ellipse cx="640" cy="1390" rx="34" ry="55" transform="rotate(20 640 1390)"/><path d="M652 1370A20 20 0 1 0 652 1410"/>
<path d="M520 125Q470 150 475 210L620 320M520 125L700 215"/><ellipse cx="675" cy="275" rx="45" ry="65" transform="rotate(20 675 275)"/><path d="M690 250A25 25 0 1 0 690 300"/>
<path d="M180 905Q130 930 135 990L130 1040L250 1090M180 905L300 965"/><ellipse cx="270" cy="1030" rx="45" ry="65" transform="rotate(20 270 1030)"/><path d="M285 1005A25 25 0 1 0 285 1055"/>
<!-- rings -->
<ellipse cx="243" cy="610" rx="175" ry="230" transform="rotate(28 243 610)"/>
<ellipse cx="285" cy="640" rx="88" ry="128" transform="rotate(28 285 640)"/>
<path d="M210 540Q280 480 360 530M150 640Q130 760 230 790M215 735Q270 770 320 740"/>
<path d="M440 480Q560 400 620 520Q640 700 480 820L300 800M360 740Q420 800 500 770"/>
<ellipse cx="480" cy="1045" rx="195" ry="285" transform="rotate(28 480 1045)"/>
<ellipse cx="475" cy="1035" rx="150" ry="240" transform="rotate(28 475 1035)"/>
<path d="M570 820Q640 900 630 1000M340 1220Q450 1230 540 1130M560 750L620 770"/>
<!-- top-left -->
<path d="M85 0L200 70M0 80L140 150M300 0L180 130L20 350M240 120L170 230L0 430M212 105A22 22 0 1 0 212 145"/>
<ellipse cx="305" cy="85" rx="45" ry="65" transform="rotate(25 305 85)"/><ellipse cx="315" cy="90" rx="28" ry="45" transform="rotate(25 315 90)"/>
<ellipse cx="420" cy="150" rx="65" ry="112" transform="rotate(20 420 150)"/><ellipse cx="420" cy="150" rx="48" ry="92" transform="rotate(20 420 150)"/>
<ellipse cx="120" cy="400" rx="55" ry="82" transform="rotate(25 120 400)"/><path d="M140 365A35 35 0 1 0 135 435M30 450Q80 510 150 470"/>
<path d="M300 350L330 280Q340 240 380 250M388 262A20 20 0 1 0 388 300M380 320L400 250M215 380Q300 340 380 370Q470 350 490 380Q500 330 480 280M330 380Q420 390 460 370M510 400L560 430L590 330M600 440Q640 520 620 620"/>
<path d="M590 50Q620 0 660 0M600 120Q580 60 620 30L760 60Q800 90 770 130L690 160M750 90A30 30 0 1 0 750 135M440 0Q470 30 500 0"/>
<path d="M0 560Q30 600 0 650M40 850Q90 830 120 870Q140 910 110 960Q60 990 20 960M50 880L110 890M30 940L90 950M0 800Q60 790 110 830"/>
<path d="M0 1080L100 1140L100 1040L140 990M130 1150L240 1200M0 1200L100 1260M280 1280L260 1330L220 1350M250 1220L700 1480M0 1440L120 1500M520 1500L600 1470M0 1100Q50 1080 90 1110"/>
<ellipse cx="130" cy="1350" rx="38" ry="60" transform="rotate(20 130 1350)"/><path d="M142 1330A20 20 0 1 0 142 1370M20 1330L110 1295M0 1400L100 1410"/>
<ellipse cx="235" cy="1440" rx="34" ry="55" transform="rotate(20 235 1440)"/><path d="M247 1420A20 20 0 1 0 247 1460M150 1400L220 1390M40 1440L180 1500"/>
<path d="M740 1500Q770 1470 850 1490" stroke-width="12"/>
</g>
</g>

<g clip-path="url(#cutAll)">
<g transform="translate(880,340) scale(0.2)" class="l" stroke-width="6.5">
<!-- gap filler: 880,340 .. 1060,640 (5x) -->
<path d="M130 150L300 250Q340 262 345 300M115 330L240 275Q290 260 300 250M120 370L180 345Q200 350 205 380M300 290Q230 290 225 350Q240 410 290 400M0 215L20 205"/>
<path d="M440 640L510 760M530 775A30 30 0 1 0 545 835M510 745Q560 740 578 785M450 820L520 860M600 865L505 1015"/>
<path d="M505 1030Q450 1040 445 1090Q450 1130 480 1130L600 1197M505 1030L600 1085M450 955L465 960M540 1420Q520 1400 460 1420Q420 1450 410 1500M600 1330L540 1420"/>
</g>
</g>

<g clip-path="url(#cutAll)">
<g transform="translate(370,1000) scale(0.2)" class="l" stroke-width="6.5">
<!-- tile E1: 370,1000 .. 670,1300 (5x) -->
<path d="M580 1000V1175"/>
<path d="M680 0L790 220M800 240L815 270M825 290L1385 1415L1310 1375M1290 1365L1262 1350"/>
<path d="M20 588L1050 1195M-10 655L1035 1255M1050 1195L1230 1290M1035 1255L1215 1355"/>
<ellipse cx="1232" cy="1325" rx="18" ry="36" transform="rotate(-28 1232 1325)"/>
<path d="M1050 1195Q1025 1220 1035 1255M1068 1204Q1043 1229 1053 1264M1086 1213Q1061 1238 1071 1273M1104 1222Q1079 1247 1089 1282M1122 1232Q1097 1257 1107 1292M1140 1241Q1115 1266 1125 1301M1158 1250Q1133 1275 1143 1310M1176 1260Q1151 1285 1161 1320M1194 1270Q1169 1295 1179 1330M1212 1279Q1187 1304 1197 1339"/>
<path d="M860 0L865 70L920 105Q960 110 990 95L1160 10L1200 0M930 60Q920 30 950 0M975 15A20 20 0 1 0 975 50M1500 310L1482 325L1485 350L1500 360"/>
</g>
</g>
<g transform="translate(339.6,1093.4) scale(0.04)" class="l" stroke-width="30">
<path d="M730 385Q640 280 480 340Q330 430 250 720Q260 880 370 960M730 385Q460 520 390 800Q360 1000 480 1130M440 385L590 470M250 720L390 800M590 470Q700 430 730 385M730 385Q900 320 1020 430Q1110 560 1060 710M480 1130Q620 1230 850 1090M730 465Q800 400 920 385M460 950L455 1060M860 600Q720 560 650 760Q610 920 720 990"/>
</g>
<g transform="translate(325,1270) scale(0.066667)">
<path d="M140 1010L470 480L520 510L525 570L1175 180L1245 215L1245 670L535 1080L525 1205Z" fill="#2e0505" stroke="#2e0505" stroke-width="14" stroke-linejoin="round"/>
<path d="M165 1005L475 500L505 520L200 1035ZM535 565L1180 195L1225 220L540 610Z" fill="#fff"/>
<path d="M555 985L590 700L745 630M575 815L700 755M765 640L805 850L895 640L925 790L1040 490M1040 740L1075 420L1170 370Q1215 370 1205 450L1185 610Q1170 670 1120 700Z" fill="none" stroke="#fff" stroke-width="33" stroke-linecap="round" stroke-linejoin="round"/>
</g>

<g clip-path="url(#cutAll)">
<g transform="translate(640,1000) scale(0.2)" class="l" stroke-width="6.5">
<!-- tile E2: 640,1000 .. 940,1300 (5x) -->
<path d="M1050 705V845M1352 755V1000M865 525L955 580"/>
<path d="M1000 1428H1230" stroke="#7a3030"/>
<path d="M165 0Q230 60 270 150Q310 280 280 400M235 0Q330 120 330 280Q330 340 300 380M240 220L140 310L140 350L165 380L170 410L330 505L390 500L430 470L440 440L490 420L495 350L445 320Q380 360 300 380M165 380L250 390M150 320Q200 350 280 300M240 255L280 270"/>
<path d="M350 60Q380 90 430 70Q480 150 470 240Q450 300 390 340M460 0Q540 120 520 240Q500 300 445 320M350 60Q340 100 370 120M395 0Q400 30 430 40"/>
<path d="M495 350L560 385Q640 420 700 410L720 425L850 440M490 420L800 595Q850 610 880 580M850 440Q900 430 915 480Q925 540 880 580"/>
<ellipse cx="855" cy="525" rx="22" ry="36" transform="rotate(20 855 525)"/>
<path d="M850 440Q810 470 815 540Q820 590 850 600"/>
<path d="M690 230Q700 200 720 215L860 430M690 230L715 400M735 240L800 350M800 140Q780 200 800 280L880 430M800 140L830 160M880 430Q870 300 960 240L1010 235"/>
<path d="M770 80L960 190L965 220L1005 235L1075 210L1310 110L1330 120Q1350 100 1340 60L1500 0M770 80L765 0M960 190L945 0M785 100L950 195M1050 0Q1090 20 1060 100L1050 130M1075 210L1080 185L1300 85M1130 0L1300 85M1320 0L1350 45"/>
<ellipse cx="1035" cy="55" rx="30" ry="50" transform="rotate(20 1035 55)"/>
<path d="M1012 162A20 20 0 1 0 1012 198M1337 65A22 22 0 1 0 1337 105M1048 35A20 20 0 1 0 1048 75"/>
</g>
</g>
<g transform="translate(819.8,1096.2) scale(0.04)" class="l" stroke-width="30">
<path d="M700 275Q480 310 330 620Q200 920 340 1060Q450 1160 620 1100M700 275Q870 270 950 470M860 420Q700 350 540 550Q350 800 420 960Q460 1060 600 1085M650 480L840 590M415 830L650 940M840 590L820 640M650 900L640 1080M960 520Q1130 560 1130 760Q1080 1050 860 1150Q720 1180 650 1090M960 520Q900 540 840 590M860 420Q940 450 960 520M610 370L700 330"/>
<ellipse cx="885" cy="850" rx="100" ry="175" transform="rotate(25 885 850)"/>
<path d="M800 960Q850 800 930 720M830 980Q880 830 960 740M790 900Q830 780 900 710M1000 700Q1030 740 1010 790"/>
</g>

<g transform="translate(930,900) scale(0.2)" class="l" stroke-width="6.5">
<!-- tile F: 930,900 .. 1230,1200 (5x) -->
<path d="M452 435V590M212 640V775M962 310V435M1210 345V495M332 1005V1395M487 1005V1315M727 1005V1235M995 1270H1130"/>
<path d="M345 1295H475" stroke="#7a3030"/>
<path d="M0 310L150 390M90 470L170 430L210 440L240 410L470 295L500 320L540 300L550 255L800 115M230 375L360 320M0 430L90 470M0 520L25 508M95 470L145 520M222 382A20 20 0 1 0 222 418M537 252A20 20 0 1 0 537 288M150 390Q180 370 200 380"/>
<path d="M45 150L40 200L200 380M440 140L530 215M455 300L470 240"/>
<!-- plate 14 -->
<path d="M955 130L1040 135Q1060 145 1060 170L1055 215L920 320Q900 330 895 310L885 300L850 310Q835 300 840 285L940 145ZM945 150L855 280"/>
<ellipse cx="1015" cy="205" rx="11" ry="25" transform="rotate(30 1015 205)"/>
<!-- screw 15 -->
<path d="M1110 245Q1100 270 1110 285L1165 310M1125 240L1175 262M1125 240Q1110 265 1125 290M1138 246Q1123 271 1138 296M1151 252Q1136 277 1151 302M1164 258Q1149 283 1164 308"/>
<path d="M1175 262Q1220 255 1245 290Q1250 320 1225 345Q1195 350 1165 330L1160 310M1195 270L1180 325M1215 275L1200 335M1232 285L1220 340M1205 300Q1230 300 1240 320"/>
<!-- washer 7 -->
<ellipse cx="222" cy="555" rx="65" ry="92" transform="rotate(25 222 555)"/><ellipse cx="222" cy="558" rx="33" ry="62" transform="rotate(25 222 558)"/>
</g>
<g transform="translate(950,985) scale(0.066667)" class="l" stroke-width="19">
<path d="M730 420Q620 440 580 600Q570 700 610 720L720 790M730 420L780 430L880 490M700 440Q610 560 640 730M750 450Q660 580 690 760M800 465Q710 600 740 780M850 485Q760 620 770 790"/>
<path d="M880 490Q760 600 730 800Q730 900 800 950L860 980M990 460Q900 470 880 490M990 460Q880 560 800 780Q790 900 860 980M990 460Q1100 470 1150 570"/>
<path d="M1150 570Q1230 640 1200 780Q1150 950 980 1000Q900 1000 860 980M960 560Q860 680 820 800Q810 900 900 960M960 560L1030 620L1100 580L1150 570M960 510L1050 520L1100 580M820 820L880 830L900 860L890 940"/>
</g>

<g transform="translate(290,740) scale(0.133333)" class="l" stroke-width="9.7">
<!-- tile H: 290,740 .. 440,940 (7.5x) -->
<path d="M545 245V435M250 450V630M545 1070V1225M385 670L600 545"/>
<ellipse cx="578" cy="555" rx="75" ry="122" transform="rotate(-25 578 555)"/><ellipse cx="578" cy="557" rx="52" ry="96" transform="rotate(-25 578 557)"/>
<ellipse cx="250" cy="745" rx="82" ry="118" transform="rotate(-25 250 745)"/>
<path d="M262 715A35 35 0 1 0 270 775M275 640Q300 620 330 635Q380 680 380 760L330 800M295 635Q350 680 345 790M315 632Q368 680 362 775M215 650Q300 680 320 810"/>
<ellipse cx="515" cy="935" rx="95" ry="132" transform="rotate(-25 515 935)"/>
<path d="M525 915A38 38 0 1 0 530 985M540 820Q580 800 610 820Q660 870 655 950L610 990M565 815Q625 865 622 980M585 812Q645 862 640 965"/>
</g>

<g transform="translate(960,560) scale(0.166667)" class="l" stroke-width="7.8">
<!-- patch P1: 960,560 .. 1210,710 (6x) -->
<path d="M60 28L305 160M260 0L385 65M385 65Q400 45 440 45L530 45Q560 35 590 10L620 0M385 65L150 380"/>
<path d="M150 380L130 398M60 400Q90 370 130 398L305 495M60 490L225 600"/>
<path d="M590 200L315 530Q260 550 272 605L80 830M625 215L345 545M300 620L110 850M765 215L620 185M310 555A24 24 0 1 0 312 600"/>
<path d="M560 40L745 120Q790 100 830 130L840 160Q870 180 900 165L1060 200Q1090 170 1130 185L1150 215L1330 300Q1360 270 1395 290Q1420 320 1400 370Q1440 420 1465 620Q1490 650 1480 690Q1460 730 1420 720L1390 890"/>
<path d="M630 150L740 160Q750 200 790 215Q830 220 850 195L1050 240Q1070 275 1110 275L1130 265L1340 355Q1370 375 1395 365M1395 370Q1420 450 1430 640M1410 730L1385 900"/>
<path d="M815 150A24 24 0 1 0 815 195M1125 205A24 24 0 1 0 1125 250M1380 300A24 24 0 1 0 1380 345M1458 665A22 22 0 1 0 1458 708"/>
<path d="M600 30L760 110M690 35L740 50Q800 50 870 30Q900 30 920 40L1100 140M870 70L1030 160M1150 150L1390 280M1200 160L1260 190M1120 140L1180 20M1140 150L1200 25M1210 0Q1270 40 1340 0"/>
<path d="M600 230L690 275Q720 270 730 240Q730 210 700 200M690 275Q670 250 690 215"/>
<ellipse cx="410" cy="520" rx="58" ry="85" transform="rotate(30 410 520)"/><path d="M440 490A38 38 0 1 0 445 560"/>
<ellipse cx="625" cy="415" rx="42" ry="60" transform="rotate(30 625 415)"/><path d="M645 395A25 25 0 1 0 648 440"/>
<ellipse cx="560" cy="590" rx="85" ry="128" transform="rotate(30 560 590)"/><ellipse cx="560" cy="590" rx="65" ry="108" transform="rotate(30 560 590)"/>
<ellipse cx="510" cy="760" rx="38" ry="55" transform="rotate(30 510 760)"/><path d="M528 740A24 24 0 1 0 530 785"/>
<ellipse cx="905" cy="370" rx="128" ry="162" transform="rotate(30 905 370)"/><ellipse cx="930" cy="362" rx="88" ry="128" transform="rotate(30 930 362)"/>
<path d="M860 330Q900 250 990 240"/>
<ellipse cx="945" cy="545" rx="72" ry="92" transform="rotate(30 945 545)"/><path d="M975 510A38 38 0 1 0 978 580M790 480Q750 540 790 600L880 640M870 540Q860 590 900 620"/>
<path d="M700 570Q640 590 625 650Q620 700 650 720L810 815M700 570L880 665"/><ellipse cx="870" cy="745" rx="58" ry="85" transform="rotate(25 870 745)"/><path d="M895 715A35 35 0 1 0 898 780"/>
<path d="M1080 580Q1040 610 1040 660Q1045 690 1070 690L1180 745M1110 575L1230 640"/><ellipse cx="1215" cy="695" rx="35" ry="55" transform="rotate(25 1215 695)"/><path d="M1230 675A22 22 0 1 0 1232 718"/>
<path d="M1130 290Q1170 400 1140 900M1030 560L1000 900M1300 660L1390 715"/>
<path d="M60 900L75 835L60 870M180 800Q250 830 240 900M150 860Q200 860 210 900M420 780L450 760L430 830Q460 870 520 860L600 840M330 900Q380 850 420 850L440 790M640 760Q660 820 640 900M760 900L790 820M790 900L815 830"/>
</g>

<g transform="translate(500,880) scale(0.166667)" class="l" stroke-width="7.8">
<!-- patch P2: 500,880 .. 750,1030 (6x) -->
<path d="M0 70L100 130M0 648L126 900M100 130L120 20L140 0M200 0L240 50L270 0"/>
<path d="M85 195Q40 240 50 330Q80 600 250 750L250 800L300 840M100 180Q150 150 220 160L290 175L300 140M95 215Q70 400 160 590M200 215Q180 450 390 650M320 215Q340 450 520 590"/>
<path d="M300 215L590 65M290 175Q280 120 330 100M395 80A35 35 0 1 0 400 135"/>
<path d="M250 750L300 700L390 660M290 710L295 835Q340 870 390 850L570 740Q600 710 640 720Q720 680 790 560L870 500M395 735A35 35 0 1 0 400 790"/>
<path d="M520 590Q540 500 610 480Q680 490 720 550L740 560M690 570A55 55 0 1 0 655 680M520 590L520 625L580 590M660 510Q700 520 720 560M965 435A35 35 0 1 0 970 490M900 490L870 500"/>
<path d="M380 0Q420 30 450 40L580 0M590 65L600 0M590 65Q640 80 680 80Q730 60 740 0M700 10A28 28 0 1 0 700 55"/>
<path d="M545 85L450 270L520 255M600 80L530 235L535 250M435 300L520 260M575 150L650 190"/>
<path d="M740 0L950 130M700 90L700 180L960 330M705 110Q720 100 740 110L965 240L965 300Q975 315 990 310M720 200Q740 190 760 200L980 400"/>
<path d="M1040 0Q990 60 1010 120L1060 160L1060 300L1095 440Q1050 480 1050 530L1035 640L1005 660L1005 700Q1100 800 1160 900M1035 640Q1100 680 1150 760Q1200 830 1230 900M1020 670Q1090 720 1130 790M1060 160L1150 200M1070 20L1120 50"/>
<path d="M1130 0Q1120 200 1250 400Q1350 540 1500 560M1210 0Q1200 150 1280 290M1290 0Q1270 80 1300 150"/>
<ellipse cx="1290" cy="280" rx="72" ry="100" transform="rotate(-20 1290 280)"/><ellipse cx="1285" cy="285" rx="52" ry="78" transform="rotate(-20 1285 285)"/>
<path d="M1250 185L1380 110Q1450 90 1500 130M1340 370L1500 290M1330 140Q1400 200 1390 340M1370 120Q1440 180 1430 320M1410 105Q1480 165 1470 300M1450 100Q1500 150 1500 280"/>
<path d="M1320 390Q1400 450 1500 450M1380 400Q1440 440 1500 430M1400 520Q1450 540 1500 540M1165 520Q1170 560 1120 600Q1100 640 1105 670M1200 560L1340 640"/>
<path d="M1340 640L1375 620L1400 640L1395 700Q1390 760 1340 790L1300 810L1255 795M1340 690Q1300 720 1310 790M1365 710A25 25 0 1 0 1368 755M1420 700Q1460 800 1480 900M1255 800L1290 900M1400 640L1420 700"/>
</g>

<g transform="translate(750,880) scale(0.166667)" class="l" stroke-width="7.8">
<!-- patch P3: 750,880 .. 1000,1030 (6x) -->
<path d="M0 60Q80 200 100 350Q100 450 60 490L0 480M120 0Q200 100 230 250Q250 420 130 550L40 600Q60 660 40 710L0 700M0 180Q50 230 40 300M130 550L300 650"/>
<path d="M250 310L290 300L440 370Q470 420 460 480L420 600Q400 640 350 655L300 650L250 610Q240 470 250 310M330 340Q280 400 270 500Q270 600 320 650M275 295L310 310M352 395A30 30 0 1 0 355 450M362 475A30 30 0 1 0 365 530M370 565A30 30 0 1 0 372 620"/>
<path d="M240 610L250 800L300 880M250 800L470 900M260 820L300 900"/>
<ellipse cx="385" cy="235" rx="48" ry="82" transform="rotate(35 385 235)"/>
<path d="M350 290Q380 210 430 180M365 300Q400 225 445 195M340 270Q365 200 415 170M400 130L425 125M230 0L520 160M290 15L430 90"/>
<path d="M420 245L800 465M830 480L900 520M940 545L1020 590M1060 610L1080 622M655 530L970 775M560 640L860 805M610 510L650 530L730 490"/>
<path d="M560 0Q580 80 550 170L490 220Q470 260 490 290M590 0Q610 90 585 190Q560 250 560 300M540 230A25 25 0 1 0 545 280M440 370Q470 340 470 320L500 340M460 480L470 560Q440 560 410 590M470 560L490 900M440 620L470 900M455 560A25 25 0 1 0 458 605"/>
<ellipse cx="550" cy="490" rx="55" ry="105" transform="rotate(30 550 490)"/><path d="M540 590Q550 600 545 620"/>
<path d="M590 90Q720 130 870 50Q900 20 900 0M600 130Q730 170 880 100M640 0Q740 40 830 0M600 180L650 240L900 215L905 180L880 165L600 200"/>
<ellipse cx="795" cy="355" rx="55" ry="95" transform="rotate(30 795 355)"/>
<path d="M760 270L860 245Q930 290 940 340L880 420L790 462"/>
<path d="M965 150L1050 320L1130 70M1090 30L1320 140M1190 100L1130 350Q1130 380 1160 390L1200 430M1180 190Q1200 240 1290 240Q1310 230 1320 210M1080 340Q1090 400 1050 425M940 400L990 430M1040 460L1080 484"/>
<path d="M860 800Q880 780 910 790Q950 760 980 780L1080 740M750 900L900 850Q920 870 960 860L1050 800L1080 782M800 900L890 870M955 800A25 25 0 1 0 958 845"/>
<path d="M540 900Q510 820 550 760Q600 720 620 770Q640 850 580 890M600 775A30 30 0 1 0 603 830"/>
</g>

<g transform="translate(740,330) scale(0.133333)" class="l" stroke-width="9.7">
<!-- patch P4: 740,330 .. 940,430 (7.5x) -->
<path d="M0 640L660 220M455 0L635 100M1095 0V215M1425 0L1500 43"/>
<path d="M660 220Q690 70 810 55L1090 215L1500 455M660 220Q680 260 640 290L530 360Q480 400 390 580Q370 680 420 750M530 365L690 460M405 595L600 705"/>
<ellipse cx="835" cy="215" rx="70" ry="35"/><ellipse cx="835" cy="213" rx="50" ry="24"/>
<path d="M765 215L755 280Q790 330 880 320Q920 300 925 275L905 215M770 305L770 480Q830 520 895 490L895 315M690 510Q680 450 770 410M895 405Q960 420 985 460M690 510Q700 490 705 520"/>
<path d="M985 455L1070 400M815 690Q880 540 985 460"/>
<path d="M610 750L610 640Q620 560 680 530L775 580Q810 600 805 660L820 750M690 540L760 575M760 630A25 25 0 1 0 765 675M690 660L690 750"/>
<path d="M1230 580Q1300 540 1500 460M1500 490Q1420 520 1390 600Q1370 660 1400 690L1500 720M1260 610Q1320 580 1350 600M1240 640L1400 730M1160 650L1090 750M1190 660L1130 750M1500 510Q1440 560 1420 640"/>
</g>

<g class="l" stroke-width="1.3">
<path d="M383 699Q386 706 396 705Q414 703 423 692Q428 682 426 672"/>
</g>

<g transform="translate(880,700) scale(0.133333)" class="l" stroke-width="9.7">
<!-- patch P5: 880,710 .. 1080,880 (7.5x, origin y=700) -->
<path d="M60 75Q100 85 140 75M0 140Q120 230 250 120Q290 80 295 75"/>
<path d="M645 75L400 340Q390 370 410 385L440 380L690 75M612 75L430 330"/>
<path d="M340 470Q330 420 380 400L440 385M440 400L380 530M395 440A28 28 0 1 0 398 490M335 490L170 740L150 790L0 920M380 530L255 700M220 700Q250 740 215 775Q190 790 180 760"/>
<path d="M0 870Q100 830 160 800M180 800L880 1210M930 1240L1010 1280M1060 1310L1130 1345"/>
<path d="M270 650Q330 700 350 800L355 910M250 710Q300 780 300 880M370 660L400 670Q500 750 520 1000L480 980Q470 780 360 700ZM400 730Q470 830 480 970"/>
<path d="M155 810Q150 1000 0 1200M280 920Q260 1100 120 1300Q60 1380 0 1420M370 970Q340 1150 230 1300"/>
<path d="M360 540L380 595L405 600L520 455M490 390L540 395"/>
<path d="M590 270L690 320Q720 350 715 400Q700 460 650 480L600 470Q570 440 565 400L530 320Z"/><ellipse cx="655" cy="400" rx="42" ry="68" transform="rotate(20 655 400)"/><path d="M672 375A28 28 0 1 0 675 425"/>
<path d="M750 200Q720 100 790 75M935 75Q950 120 880 200Q810 240 750 200M870 75A55 55 0 0 0 850 160M650 150L760 210"/>
<ellipse cx="1040" cy="390" rx="265" ry="345" transform="rotate(28 1040 390)"/><ellipse cx="1100" cy="400" rx="135" ry="205" transform="rotate(28 1100 400)"/>
<path d="M880 470Q870 620 1000 700M1180 270Q1260 350 1230 480M990 580Q1050 620 1110 600"/>
<path d="M1240 130Q1400 100 1500 180M1210 600Q1300 680 1400 630M1130 690Q1200 760 1320 750Q1420 720 1500 620"/>
<path d="M600 800Q620 690 710 670Q800 690 830 740Q880 760 890 830Q880 920 800 960Q740 970 700 940Q620 900 600 800M740 770L800 790L790 810M700 870L770 900L760 920M750 760Q800 740 830 780M690 880Q720 950 800 930M610 930L580 1050M680 960L640 1070"/>
<path d="M960 830Q890 850 870 920Q860 990 880 1030L1010 1110M960 830L1150 930"/><ellipse cx="1090" cy="1020" rx="62" ry="100" transform="rotate(25 1090 1020)"/><path d="M1115 985A38 38 0 1 0 1118 1055"/>
<path d="M1500 700Q1250 800 1160 1000Q1100 1200 1180 1330M1500 760Q1290 870 1220 1050Q1180 1200 1240 1300Q1350 1320 1500 1280M1060 1130Q1050 1250 1100 1330"/>
<path d="M230 1200Q240 1140 300 1135Q360 1160 350 1230Q330 1290 270 1280Q225 1260 230 1200M265 1240L270 1280"/>
<path d="M520 1180Q420 1200 380 1290Q370 1350 400 1390M520 1180L920 1350M530 1200L600 1230M560 1090L540 1160Q560 1200 620 1220M640 1110Q600 1150 610 1200M690 1110Q740 1070 790 1110L820 1170M720 1140Q760 1120 790 1150M860 1260Q900 1330 980 1340"/>
</g>

<g transform="translate(860,1100) scale(0.133333)" class="l" stroke-width="9.7">
<!-- tile G1: 860,1100 .. 1060,1300 (7.5x) -->
<g id="g1c">
<circle cx="380" cy="755" r="38"/><circle cx="380" cy="755" r="18"/>
<circle cx="475" cy="640" r="38"/><circle cx="475" cy="640" r="20"/>
<circle cx="570" cy="640" r="38"/><circle cx="570" cy="640" r="20"/>
<circle cx="735" cy="500" r="38"/><circle cx="735" cy="500" r="20"/>
<circle cx="755" cy="590" r="38"/><circle cx="755" cy="590" r="20"/>
<circle cx="970" cy="415" r="38"/><circle cx="970" cy="415" r="20"/>
<circle cx="1095" cy="265" r="38"/><circle cx="1095" cy="265" r="20"/>
<circle cx="1255" cy="470" r="38"/><circle cx="1255" cy="470" r="20"/>
<circle cx="1355" cy="430" r="55"/><circle cx="1355" cy="430" r="35"/>
<circle cx="1325" cy="230" r="82"/>
<circle cx="1180" cy="595" r="55"/><circle cx="1180" cy="595" r="35"/>
<circle cx="230" cy="855" r="55"/><circle cx="230" cy="855" r="35"/>
<circle cx="335" cy="940" r="55"/><circle cx="335" cy="940" r="32"/>
<circle cx="200" cy="950" r="30"/><circle cx="200" cy="950" r="15"/>
<circle cx="215" cy="1030" r="55"/><circle cx="215" cy="1030" r="35"/>
<circle cx="235" cy="1115" r="30"/><circle cx="235" cy="1115" r="15"/>
<circle cx="305" cy="1150" r="38"/><circle cx="305" cy="1150" r="20"/>
<circle cx="875" cy="840" r="38"/><circle cx="875" cy="840" r="20"/>
<circle cx="1185" cy="825" r="38"/><circle cx="1185" cy="825" r="20"/>
<circle cx="832" cy="1070" r="278"/><circle cx="832" cy="1070" r="180"/>
<circle cx="615" cy="1145" r="35"/><circle cx="615" cy="1145" r="18"/>
<circle cx="1020" cy="1215" r="35"/><circle cx="1020" cy="1215" r="18"/>
<circle cx="1320" cy="1165" r="68"/><circle cx="1320" cy="1165" r="45"/>
<circle cx="190" cy="1390" r="50"/><circle cx="190" cy="1390" r="22"/>
<circle cx="445" cy="1410" r="48"/><circle cx="445" cy="1410" r="28"/>
<circle cx="1215" cy="1405" r="50"/><circle cx="1215" cy="1405" r="28"/>
<circle cx="1365" cy="1430" r="50"/><circle cx="1365" cy="1430" r="30"/>
</g>
<path d="M275 580L330 575L340 590Q700 470 920 340L1060 250M1130 240L1245 130Q1300 90 1380 110Q1440 130 1470 180M1405 300Q1450 250 1440 190M1360 310L1350 375M1290 330L1320 385M1400 400L1500 340"/>
<path d="M400 760L410 620Q420 570 470 565Q700 540 860 420L920 350M430 700L435 690M500 590Q700 560 870 440L930 375"/>
<path d="M275 580L270 620L245 625L240 715L165 720L150 680L110 675L75 1095L130 1090L150 1060M130 680L95 1090"/>
<path d="M350 785L370 830Q350 880 330 885M395 790Q380 850 385 900M130 1090Q120 1200 170 1300L155 1345M330 1000L320 1060L340 1100M325 1190Q340 1300 390 1440L430 1500M345 1180Q370 1330 400 1390M130 1440L120 1500M240 1440L265 1500"/>
<path d="M420 755L480 735Q495 725 485 715L420 735"/>
<path d="M470 680L480 790Q500 850 540 900L580 905L590 1010L630 1020L610 980M540 680L605 840L600 900"/>
<path d="M790 560L880 780L920 790M860 440L960 740L950 770L980 890M950 460L1000 590L1040 600M1010 600L1060 740L1170 790M1010 620Q1030 680 1060 700M1000 830L1060 760M1040 870L1110 790M1080 910L1160 850"/>
<path d="M1100 590L1130 640L1160 690L1220 690L1240 790L1280 790Q1350 680 1500 600M1410 640L1500 590M1200 215Q1240 260 1230 320"/>
<path d="M600 1020Q610 900 745 835M625 1010Q650 900 745 855M1010 890Q1090 960 1085 1095M990 905Q1070 980 1060 1095M665 1260Q780 1330 910 1290M680 1240Q790 1310 905 1270M1110 1110L1250 1145M1105 1140L1250 1175"/>
<path d="M380 1280Q450 1300 520 1250Q570 1230 620 1260M380 1300Q460 1320 530 1270"/>
<path d="M680 1310L590 1500M710 1320L620 1500M940 1330L1050 1500M970 1320L1080 1500M1220 1000Q1230 1200 1150 1500M1290 1230L1230 1360M1320 1235L1260 1370M1265 1420L1320 1425M1400 1400L1470 1370M1385 1150Q1450 1130 1470 1200L1500 1260M1278 1158H1362M1278 1172H1362"/>
</g>

<g transform="translate(1060,1100) scale(0.133333)" class="l" stroke-width="9.7">
<!-- tile G2: 1060,1100 .. 1260,1300 (7.5x) -->
<path d="M515 405H715"/>
<circle cx="118" cy="350" r="38"/><circle cx="118" cy="350" r="20"/>
<circle cx="345" cy="400" r="38"/><circle cx="345" cy="400" r="20"/>
<circle cx="512" cy="405" r="18"/><path d="M545 425A38 38 0 1 1 540 380"/>
<circle cx="430" cy="220" r="65"/><circle cx="430" cy="220" r="32"/>
<circle cx="652" cy="648" r="38"/><circle cx="652" cy="648" r="20"/>
<circle cx="540" cy="845" r="58"/><circle cx="540" cy="845" r="38"/><circle cx="540" cy="845" r="20"/>
<circle cx="710" cy="1000" r="38"/><circle cx="710" cy="1000" r="20"/>
<circle cx="822" cy="995" r="38"/><circle cx="822" cy="995" r="20"/>
<circle cx="730" cy="1385" r="38"/><circle cx="730" cy="1385" r="20"/>
<circle cx="840" cy="1385" r="38"/><circle cx="840" cy="1385" r="20"/>
<circle cx="1005" cy="1310" r="55"/><circle cx="1005" cy="1310" r="40"/>
<circle cx="430" cy="635" r="95"/><circle cx="430" cy="635" r="75"/>
<circle cx="160" cy="690" r="100"/><circle cx="160" cy="690" r="75"/><circle cx="215" cy="585" r="30"/><circle cx="100" cy="780" r="30"/>
<circle cx="300" cy="800" r="50"/><circle cx="300" cy="800" r="30"/><circle cx="300" cy="800" r="15"/>
<circle cx="570" cy="1065" r="90"/>
<circle cx="385" cy="1305" r="30"/>
<circle cx="185" cy="1115" r="130"/>
<path d="M40 1245Q180 1330 300 1230"/>
<!-- big circle A (shared with G1) -->
<circle cx="-60" cy="930" r="120"/><circle cx="-60" cy="930" r="180"/>
<path d="M-270 930A210 210 0 0 1 60 770M-270 930A210 210 0 0 0 -60 1140"/>
<circle cx="0" cy="195" r="38"/><circle cx="0" cy="195" r="20"/>
<circle cx="0" cy="1340" r="45"/><circle cx="0" cy="1340" r="25"/>
<path d="M60 800Q100 870 200 900Q340 930 370 1060Q400 1200 340 1290M90 830Q130 880 220 890Q380 920 400 1060Q430 1200 380 1270"/>
<path d="M100 1500Q120 1350 290 1320Q450 1340 480 1500M140 1500Q160 1390 290 1360Q420 1380 440 1500"/>
<path d="M35 215L310 385M30 235L300 405M140 270Q200 170 290 155L420 150Q490 160 495 230L510 365"/>
<path d="M375 370L395 280M345 365L375 280M380 415L480 470Q560 520 625 620M370 440L470 495Q540 550 610 640M545 420L550 450L640 615M480 440L540 450"/>
<path d="M680 675Q780 800 800 950M665 690Q760 810 780 960M620 680L570 790M645 690L595 800M470 720L515 795M495 710L540 785M585 885L680 975M570 905L670 1000M490 880L400 950L370 940M500 900L410 970Q400 1000 420 1060"/>
<path d="M748 990H785M748 1010H785M700 1040L720 1350M725 1040L745 1350M800 1030L825 1350M825 1030L850 1350"/>
<path d="M850 960L880 1050Q860 1100 900 1110L920 1130Q880 1150 850 1150Q840 1200 880 1200Q940 1200 960 1240M1060 1310L1075 1500M1035 1350L1050 1500"/>
<path d="M0 580L100 545L105 490L120 480L180 480L190 520Q280 510 380 450"/>
<path d="M870 1420L860 1500M810 1420L790 1500M700 1400L560 1440L540 1420M800 1420L570 1480L550 1500M440 1310Q520 1380 540 1420M400 1340Q480 1400 510 1450M110 1260Q180 1290 330 1270"/>
</g>

<g transform="translate(860,1290) scale(0.133333)" class="l" stroke-width="9.7">
<!-- tile G3: 860,1290 .. 1060,1410 (7.5x) -->
<path d="M598 440V680M988 420V680M1383 470V680"/>
<circle cx="430" cy="108" r="38"/><circle cx="430" cy="108" r="20"/>
<circle cx="390" cy="432" r="62"/><circle cx="390" cy="432" r="32"/>
<circle cx="220" cy="410" r="45"/>
<circle cx="790" cy="240" r="38"/><circle cx="790" cy="240" r="20"/>
<circle cx="1160" cy="325" r="38"/><circle cx="1160" cy="325" r="20"/>
<circle cx="735" cy="135" r="78"/><circle cx="975" cy="200" r="78"/>
<circle cx="598" cy="440" r="14"/><path d="M556 445A42 42 0 0 1 640 440L628 478M556 445L572 478"/>
<circle cx="988" cy="420" r="14"/><path d="M940 440A48 48 0 0 1 1036 440L1020 462M940 440L925 445"/>
<circle cx="1383" cy="468" r="14"/><path d="M1342 445A42 42 0 0 1 1424 445L1412 498M1342 445L1350 490"/>
<path d="M125 75L130 370M150 75L160 400Q165 440 200 460Q300 480 340 470M265 75L290 380M265 395H330M265 430H325"/>
<path d="M305 205L395 190M320 215L355 370M375 200L395 345L500 200"/>
<path d="M400 75L375 40M465 130L510 160L570 75M540 200L610 75M505 195L420 330M535 215L445 375"/>
<path d="M545 195L755 245M560 175L760 225M825 250L1125 330M825 230L1130 310M1195 320L1500 395M1195 340L1480 415"/>
<path d="M1035 75L1140 290M1065 75L1165 285M1215 75L1180 290M1195 75L1165 270M1085 75Q1100 105 1140 85"/>
<path d="M450 465Q490 440 555 440M640 440H935M1035 440H1340M1425 440L1470 430"/>
<path d="M1500 300A40 40 0 0 0 1500 380M1500 410A30 30 0 0 0 1500 470"/>
</g>

<g transform="translate(1060,1290) scale(0.133333)" class="l" stroke-width="9.7">
<!-- tile G4: 1060,1290 .. 1260,1410 (7.5x) -->
<path d="M22 340V680M655 240V680"/>
<path d="M-26 -30V350" stroke="#5a2a2a"/>
<circle cx="22" cy="335" r="18"/><path d="M50 370A45 45 0 1 1 55 305"/>
<circle cx="215" cy="350" r="35"/>
<circle cx="405" cy="455" r="42"/><circle cx="405" cy="455" r="20"/>
<circle cx="655" cy="235" r="18"/><path d="M690 268A48 48 0 1 1 700 215"/>
<circle cx="775" cy="130" r="62"/><circle cx="775" cy="130" r="42"/>
<circle cx="760" cy="425" r="65"/><circle cx="760" cy="425" r="35"/>
<circle cx="1035" cy="285" r="58"/><circle cx="1035" cy="285" r="45"/>
<path d="M115 105A185 185 0 0 0 485 105M55 105A245 245 0 0 0 545 110M25 105A275 275 0 0 0 520 260"/>
<path d="M545 75Q600 60 740 75M545 75L545 110Q560 160 535 185M570 80Q580 150 555 200M560 190L615 215M545 215L605 245"/>
<path d="M60 290L95 265M75 310L110 285M365 355L385 415M395 350L415 410"/>
<path d="M45 400L360 460M0 400L40 410M60 470L210 500Q230 540 270 540Q300 530 305 505L360 495M0 480L60 470M70 440L45 465"/>
<path d="M445 440Q600 400 720 300Q750 250 755 195M450 460Q620 420 740 310Q770 260 770 195M470 470L545 445L650 445M545 460Q580 490 615 460"/>
<path d="M800 75L805 68M1055 75L1070 240M1088 75L1100 250"/>
<path d="M825 215L910 265M840 225L790 355M880 250L820 380M825 410L940 340L985 330M680 450L700 460"/>
</g>

<g id="labels">
<text x="277.5" y="32" font-weight="bold" font-size="41" fill="#2e0505" stroke="#2e0505" stroke-width="1.2" textLength="201" lengthAdjust="spacingAndGlyphs">FIG.108A</text>
<clipPath id="cl"><rect x="279" y="1430" width="400" height="70"/></clipPath>
<g clip-path="url(#cl)" fill="#3a2a2a" font-size="20.5">
<text x="274" y="1465" textLength="228" lengthAdjust="spacingAndGlyphs">LT-F400FL5_P28_P33_108A</text>
<text x="272" y="1495.5" textLength="99" lengthAdjust="spacingAndGlyphs">CRANKCASE</text>
</g>
<g class="n">
<text x="503" y="59">8</text>
<text x="346" y="172">8</text>
<text x="347" y="211">8</text>
<text x="347" y="249">2</text>
<text x="346" y="302">2</text>
<text x="748.6" y="213.7">8</text>
<text x="442.7" y="376.7">8</text>
<text x="485" y="376.7">8</text>
<text x="512.7" y="376.7">4</text>
<text x="692.7" y="376">2</text>
<text x="850" y="120">16</text>
<text x="972.6" y="315">1</text>
<text x="1190" y="366">18</text>
<text x="418.3" y="428.7">13</text>
<text x="488" y="456">12</text>
<text x="562.4" y="426.3">19</text>
<text x="591.3" y="445.5">20</text>
<text x="631" y="704.5">11</text>
<text x="363" y="770.4">22</text>
<text x="323.3" y="795.7">21</text>
<text x="362.7" y="920.7">23</text>
<text x="410" y="898.7">24</text>
<text x="1020.4" y="985">6</text>
<text x="973" y="1076">7</text>
<text x="1125" y="1005.2">14</text>
<text x="1174.4" y="1015.6">15</text>
<text x="999" y="1098">10</text>
<text x="1029.4" y="1098">10</text>
<text x="1077.4" y="1098">10</text>
<text x="1170.7" y="1160.7">10</text>
<text x="912.4" y="1148">5</text>
<text x="833" y="1292.4">3</text>
<text x="939.7" y="1400">9</text>
<text x="992" y="1400">9</text>
<text x="1044.4" y="1400">9</text>
<text x="1062" y="1400">4</text>
<text x="1146.7" y="1397.3">4</text>
<text x="852" y="1188">18</text>
<text x="489.3" y="1254.3">17</text>
</g>
</g>

</svg>
</body></html>
